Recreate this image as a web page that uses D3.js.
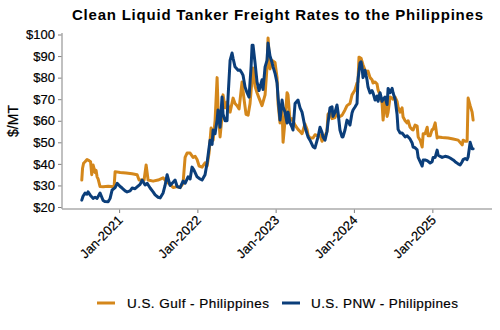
<!DOCTYPE html>
<html><head><meta charset="utf-8">
<script src="https://cdn.jsdelivr.net/npm/d3@7"></script>
<style>
body{margin:0;background:#fff}
svg{display:block;font-family:Arial,"Liberation Sans",sans-serif}
</style>
</head><body>
<svg id="chart" width="500" height="330"></svg>
<script>
// ---- data (dates as decimal years, values in $/MT) ----
const title = "Clean Liquid Tanker Freight Rates to the Philippines";
const yLabel = "$/MT";
const seriesNames = ["U.S. Gulf - Philippines", "U.S. PNW - Philippines"];
const yTicks = [20, 30, 40, 50, 60, 70, 80, 90, 100];
const xTickYears = [2021, 2022, 2023, 2024, 2025];
const xTickLabels = ["Jan-2021", "Jan-2022", "Jan-2023", "Jan-2024", "Jan-2025"];

const gulfDates = [2020.524,2020.534,2020.547,2020.566,2020.591,2020.617,2020.636,2020.651,2020.668,2020.694,2020.706,2020.719,2020.732,2020.757,2020.796,2020.860,2020.936,2020.949,2021.013,2021.089,2021.166,2021.230,2021.255,2021.319,2021.345,2021.370,2021.434,2021.498,2021.562,2021.613,2021.651,2021.690,2021.741,2021.779,2021.817,2021.843,2021.868,2021.907,2021.945,2021.971,2021.996,2022.022,2022.060,2022.098,2022.124,2022.149,2022.175,2022.201,2022.226,2022.252,2022.264,2022.290,2022.315,2022.328,2022.354,2022.379,2022.418,2022.456,2022.481,2022.507,2022.533,2022.571,2022.596,2022.622,2022.648,2022.673,2022.711,2022.737,2022.762,2022.788,2022.826,2022.865,2022.890,2022.903,2022.928,2022.954,2022.992,2023.018,2023.031,2023.056,2023.082,2023.095,2023.120,2023.146,2023.158,2023.184,2023.209,2023.248,2023.286,2023.312,2023.337,2023.375,2023.401,2023.414,2023.439,2023.478,2023.503,2023.542,2023.567,2023.593,2023.631,2023.656,2023.669,2023.695,2023.720,2023.759,2023.784,2023.797,2023.822,2023.848,2023.886,2023.912,2023.950,2023.976,2024.014,2024.040,2024.052,2024.065,2024.091,2024.116,2024.142,2024.167,2024.180,2024.206,2024.231,2024.244,2024.270,2024.295,2024.308,2024.333,2024.359,2024.372,2024.397,2024.423,2024.436,2024.461,2024.487,2024.499,2024.525,2024.550,2024.563,2024.589,2024.614,2024.627,2024.653,2024.678,2024.691,2024.716,2024.742,2024.755,2024.780,2024.806,2024.819,2024.844,2024.870,2024.883,2024.908,2024.934,2024.946,2024.972,2024.997,2025.010,2025.036,2025.061,2025.074,2025.125,2025.202,2025.266,2025.330,2025.381,2025.393,2025.419,2025.444,2025.457,2025.483,2025.508,2025.521];
const gulfValues = [32.5,38,40.3,41,42,41.5,41,35,39.5,36,37,34,33,29.5,29.4,29.6,29.4,36.4,36,35.8,35.4,35,32.5,32.5,39.5,32.5,32,32.5,33.5,31.5,30.5,29,29.5,29,31,43,45,45,43,43.5,42,39,38.5,40.5,39,45,56.6,51,60,80,66,52.5,62,72,66,68.7,64,70.5,68,67,65.5,78,70,63,62.6,68,84.5,76,73,70.5,67,72,85,98.4,84,88,87,80,68,59,66,50,60,73,72,60,61,58,56,55,54,58.5,56,53.4,52,52,53.5,53,53.5,50.5,53,55,63,64,61,61.5,66,62,62,62.5,65,67,68,72,74.3,77.5,78,89.5,89,86,83.4,82,83,80,79,77.5,78,77,74.3,72,68,60.3,70,62,64,71,70.5,70,71,69,66.4,64,66,61.7,60,59,60,57,56,55.7,58,57.5,52.5,51,47.8,54,54,57,53,53,56,56,59,52,52.5,52.2,52,51.5,51,48.8,51,50.5,50.5,70.5,67,64,60.3];

const pnwDates = [2020.524,2020.540,2020.566,2020.591,2020.604,2020.630,2020.668,2020.694,2020.719,2020.757,2020.796,2020.821,2020.860,2020.885,2020.911,2020.949,2020.975,2021.013,2021.038,2021.077,2021.102,2021.140,2021.166,2021.204,2021.230,2021.268,2021.294,2021.332,2021.358,2021.396,2021.434,2021.460,2021.498,2021.524,2021.562,2021.587,2021.613,2021.651,2021.690,2021.715,2021.741,2021.779,2021.817,2021.843,2021.881,2021.907,2021.932,2021.958,2021.996,2022.034,2022.060,2022.098,2022.124,2022.162,2022.188,2022.201,2022.226,2022.252,2022.264,2022.290,2022.315,2022.328,2022.354,2022.379,2022.392,2022.418,2022.443,2022.456,2022.481,2022.520,2022.545,2022.571,2022.584,2022.609,2022.635,2022.660,2022.686,2022.699,2022.711,2022.737,2022.762,2022.788,2022.826,2022.839,2022.865,2022.890,2022.903,2022.928,2022.954,2022.967,2022.992,2023.018,2023.031,2023.056,2023.082,2023.095,2023.120,2023.146,2023.158,2023.184,2023.209,2023.222,2023.248,2023.286,2023.312,2023.337,2023.350,2023.375,2023.414,2023.439,2023.478,2023.503,2023.542,2023.567,2023.593,2023.605,2023.631,2023.656,2023.669,2023.695,2023.720,2023.733,2023.759,2023.784,2023.797,2023.822,2023.848,2023.861,2023.886,2023.912,2023.937,2023.950,2023.976,2023.989,2024.014,2024.040,2024.052,2024.078,2024.091,2024.103,2024.116,2024.142,2024.167,2024.180,2024.206,2024.231,2024.244,2024.270,2024.295,2024.308,2024.333,2024.359,2024.372,2024.397,2024.423,2024.436,2024.461,2024.487,2024.499,2024.525,2024.550,2024.563,2024.589,2024.614,2024.653,2024.678,2024.716,2024.742,2024.755,2024.780,2024.806,2024.819,2024.844,2024.870,2024.883,2024.908,2024.934,2024.972,2024.997,2025.010,2025.036,2025.061,2025.074,2025.100,2025.125,2025.163,2025.202,2025.227,2025.266,2025.291,2025.330,2025.355,2025.381,2025.393,2025.419,2025.444,2025.457,2025.483,2025.508,2025.521];
const pnwValues = [23.2,25,26.5,26,27,25.6,24,24.5,24,26.5,23,22.5,22.4,24,27.9,29,31,29.5,28.8,27.5,27,27.5,28.8,28.5,29.3,30.5,32.5,30.2,31,28.8,27,25.6,24.5,24.2,26.5,30,35,30,31.5,32.5,29.5,29,32,31,34,33,38.5,37,34,33,32.5,35,40.4,51,49,55.7,54,60.3,65,57,71,63,60,60,71,88,91.4,89,85,83.4,83.5,82,81,75.6,73,71,85,95,95,86.8,78,74,79,74.5,85,88,96,90,87,85,82,77.5,71,60.3,69.6,66.4,64,59,64,59,57,55.7,68,69.6,66,64,61.7,57,52.5,51,48,47.4,52.5,57,54.5,52.5,51,55,59,66,66.5,62,64,67.3,64,55.7,52.5,52.5,55.7,60.3,59,58,63.6,65,66.4,68,79,86.8,87.3,85,80,83.4,79,75.6,72.9,74,72.9,69.6,71.5,69,73,69,70,71,67.5,75,73,75,73,70,63,56,54.3,54.3,52.5,53,51.5,49.7,47.8,47.5,46.5,43,41,39,41.8,41.8,41.5,40.4,41,43,43,46.4,44,43.5,43,43.5,43.2,42.7,41.8,41,40,39.5,41,42,42.5,42,43.2,50,47,47];

const colors = ["#D4871B", "#0B3E7A"];

// ---- helpers ----
function yd(t) {
  const y = Math.floor(t);
  const s = Date.UTC(y, 0, 1), e = Date.UTC(y + 1, 0, 1);
  return new Date(s + (t - y) * (e - s));
}

const svg = d3.select("#chart");
const x = d3.scaleUtc().domain([yd(2020.272), yd(2025.762)]).range([62, 492]);
const y = d3.scaleLinear().domain([20, 100]).range([207, 34.5]);
const axisY = 209;
const FONT = "Arial,'Liberation Sans',sans-serif";

// title
svg.append("text").attr("x", 277.5).attr("y", 20).attr("text-anchor", "middle")
  .attr("font-size", 15).attr("font-weight", "bold").attr("fill", "#000")
  .attr("textLength", 411).attr("lengthAdjust", "spacing").text(title);

// y axis
const gy = svg.append("g").attr("transform", "translate(62,0)")
  .call(d3.axisLeft(y).tickValues(yTicks).tickFormat(d => "$" + d).tickSize(4).tickPadding(3));
gy.select(".domain").remove();
gy.selectAll(".tick line").attr("stroke", "#7f7f7f");
gy.selectAll(".tick text").attr("font-size", 13).attr("fill", "#000").attr("font-family", FONT)
  .attr("stroke", "#000").attr("stroke-width", 0.2);
svg.append("line").attr("x1", 62).attr("x2", 62).attr("y1", 33).attr("y2", axisY)
  .attr("stroke", "#ababab").attr("stroke-width", 1.5);

// y label
svg.append("text").attr("transform", "translate(18,121) rotate(-90)")
  .attr("text-anchor", "middle").attr("font-size", 14).attr("fill", "#000")
  .attr("stroke", "#000").attr("stroke-width", 0.2).text(yLabel);

// x axis
const gx = svg.append("g").attr("transform", `translate(0,${axisY})`)
  .call(d3.axisBottom(x).tickValues(xTickYears.map(yd)).tickFormat((d, i) => xTickLabels[i]).tickSize(4));
gx.select(".domain").remove();
gx.selectAll(".tick line").attr("stroke", "#7f7f7f");
gx.selectAll(".tick text").attr("font-size", 13).attr("fill", "#000")
  .attr("stroke", "#000").attr("stroke-width", 0.2)
  .attr("font-family", FONT)
  .attr("text-anchor", "end").attr("dy", null).attr("y", null)
  .attr("transform", "translate(4,12) rotate(-45)");
svg.append("line").attr("x1", 62).attr("x2", 492).attr("y1", axisY).attr("y2", axisY)
  .attr("stroke", "#ababab").attr("stroke-width", 1.5);

// lines
const series = [
  { dates: gulfDates, values: gulfValues, color: colors[0] },
  { dates: pnwDates, values: pnwValues, color: colors[1] }
];
const line = d3.line().x(d => x(d[0])).y(d => y(d[1]));
series.forEach(s => {
  const pts = s.dates.map((t, i) => [yd(t), s.values[i]]);
  svg.append("path").datum(pts).attr("d", line).attr("fill", "none")
    .attr("stroke", s.color).attr("stroke-width", 3)
    .attr("stroke-linejoin", "round").attr("stroke-linecap", "round");
});

// legend
const legendItems = [
  { name: seriesNames[0], color: colors[0], x: 97, tx: 127, w: 142 },
  { name: seriesNames[1], color: colors[1], x: 282, tx: 311, w: 147 }
];
const lg = svg.append("g");
legendItems.forEach(it => {
  lg.append("line").attr("x1", it.x).attr("x2", it.x + 18).attr("y1", 303).attr("y2", 303)
    .attr("stroke", it.color).attr("stroke-width", 3);
  lg.append("text").attr("x", it.tx).attr("y", 307.5).attr("font-size", 13.5).attr("fill", "#000")
    .attr("stroke", "#000").attr("stroke-width", 0.2)
    .attr("textLength", it.w).attr("lengthAdjust", "spacing").text(it.name);
});
</script>
</body></html>
